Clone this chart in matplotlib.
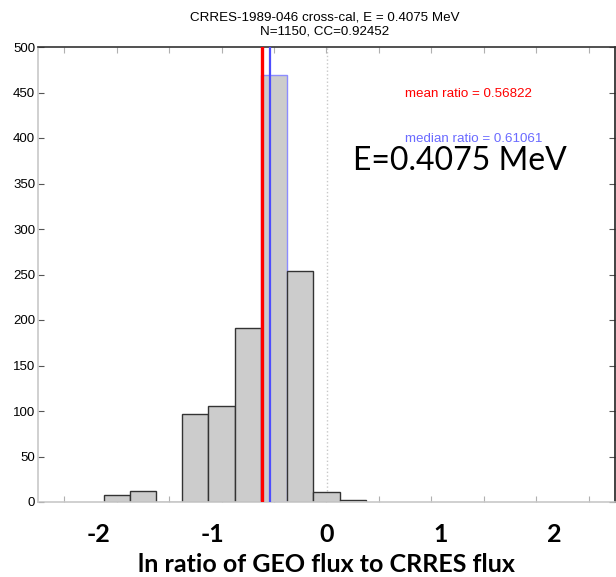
import numpy as np
import matplotlib
matplotlib.use('Agg')
import matplotlib.pyplot as plt
from matplotlib.transforms import blended_transform_factory

# histogram of log10(GEO/CRRES), bins centred on tenths
bin_centers_log10 = [-0.8, -0.7, -0.6, -0.5, -0.4, -0.3, -0.2, -0.1, 0.0, 0.1]
counts = [8, 12, 0, 97, 106, 191, 469, 254, 11, 2]
bin_width_log10 = 0.1

mean_ratio = 0.56822
median_ratio = 0.61061

tick_labels = [-2, -1, 0, 1, 2]
title_lines = ['CRRES-1989-046 cross-cal, E = 0.4075 MeV', 'N=1150, CC=0.92452']

LN10 = np.log(10)
centers = np.array(bin_centers_log10) * LN10
width = bin_width_log10 * LN10

fig = plt.figure(figsize=(6.16, 5.77), dpi=100)
ax = fig.add_axes([38 / 616, 75 / 577, 577 / 616, 455 / 577])

edge_colors = ['#333333'] * len(counts)
edge_colors[6] = '#8c8cff'
ax.bar(centers, counts, width=width, color='#cccccc', edgecolor=edge_colors,
       linewidth=1.0, zorder=2)

ax.axvline(0, color='#c8c8c8', linestyle=':', linewidth=1.0, zorder=1)
ax.axvline(np.log(mean_ratio), color='#ff0000', linewidth=2.4, zorder=3)
ax.axvline(np.log(median_ratio), color='#4d4dff', linewidth=1.6, zorder=3)

ax.set_xlim(-1.1 * LN10, 1.1 * LN10)
ax.set_ylim(0, 500)

# original tick marks sit on log10 steps of 0.2
ax.set_xticks(np.arange(-1.0, 1.01, 0.2) * LN10)
ax.set_xticklabels([])
ax.set_yticks(np.arange(0, 501, 50))
ax.tick_params(axis='both', direction='in', length=4, width=0.8, color='#555555',
               top=True, right=True, labelsize=9.5, pad=2)
ax.tick_params(axis='x', color='#b0b0b0')
for lbl in ax.get_yticklabels():
    lbl.set_family('Liberation Sans')

ax.spines['left'].set_color('#c8c8c8')
ax.spines['bottom'].set_color('#c8c8c8')
ax.spines['top'].set_color('#333333')
ax.spines['right'].set_color('#222222')
for s in ax.spines.values():
    s.set_linewidth(1.2)

fig.text(325 / 616, 1 - 17 / 577, title_lines[0], ha='center', va='center',
         fontsize=9.6, family='Liberation Sans')
fig.text(325 / 616, 1 - 31 / 577, title_lines[1], ha='center', va='center',
         fontsize=9.6, family='Liberation Sans')

fig.text(405 / 616, 1 - 94 / 577, 'mean ratio = 0.56822', color='#ff0000',
         fontsize=9.6, family='Liberation Sans', va='center', ha='left')
fig.text(405 / 616, 1 - 139 / 577, 'median ratio = 0.61061', color='#6a6aff',
         fontsize=9.6, family='Liberation Sans', va='center', ha='left')
fig.text(353 / 616, 1 - 161 / 577, 'E=0.4075 MeV', color='black',
         fontsize=23, family='Lato', va='center', ha='left')

trans = blended_transform_factory(ax.transData, fig.transFigure)
for t in tick_labels:
    ax.text(t, 1 - 535 / 577, str(t), transform=trans, ha='center', va='center',
            fontsize=18, fontweight='bold', family='Lato')
fig.text(326 / 616, 1 - 565 / 577, 'ln ratio of GEO flux to CRRES flux',
         ha='center', va='center', fontsize=18, fontweight='bold', family='Lato')

fig.savefig('out.png', dpi=100)
